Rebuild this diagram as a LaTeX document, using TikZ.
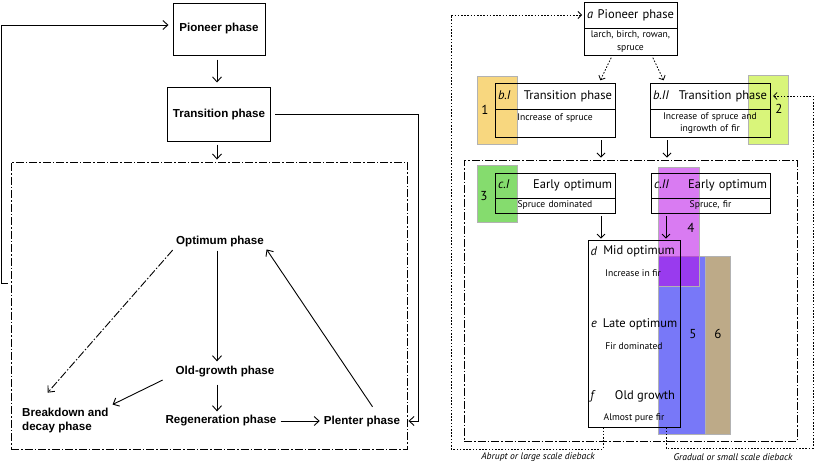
\documentclass[tikz,border=0pt]{standalone}
\usepackage{fontspec}
\setmainfont{PT Sans}
\newfontfamily\phasefont{Liberation Sans}
\usetikzlibrary{arrows.meta,positioning}

\definecolor{zoneyellow}{RGB}{248,215,127}
\definecolor{zonelime}{RGB}{217,245,122}
\definecolor{zonegreen}{RGB}{133,220,110}
\definecolor{zonepurple}{RGB}{183,6,230}
\definecolor{zoneblue}{RGB}{120,120,248}
\definecolor{zonetan}{RGB}{189,170,136}

\tikzset{
  phase/.style={font=\phasefont\bfseries\fontsize{11.6}{14}\selectfont, inner sep=2pt},
  phase box/.style={phase, draw, line width=1pt, minimum width=92pt, minimum height=52pt},
  arr/.style={line width=0.9pt, -{Straight Barb[length=5pt,width=9pt]}},
  arrR/.style={line width=0.8pt, -{Straight Barb[length=4pt,width=8pt]}},
  dashdot/.style={line width=0.9pt, dash pattern=on 8pt off 2pt on 1.5pt off 2pt},
  stage/.style={draw, line width=0.8pt, outer sep=0pt, inner xsep=3pt, font=\fontsize{12.5}{14}\selectfont},
  info/.style={draw, line width=0.8pt, outer sep=0pt, inner xsep=3pt, inner ysep=2pt, align=center, font=\fontsize{9.6}{12.5}\selectfont},
  row/.style={font=\fontsize{12.5}{14}\selectfont, inner sep=1pt},
  row note/.style={font=\fontsize{9.6}{12}\selectfont, inner sep=1pt},
  dotline/.style={line width=0.8pt, dash pattern=on 1.6pt off 1.6pt},
  dotarr/.style={dotline, -{Straight Barb[length=3.5pt,width=7pt]}},
  zone/.style={draw=gray!60, line width=0.5pt},
  zone label/.style={font=\fontsize{13}{15}\selectfont},
  note/.style={font=\itshape\fontsize{9.6}{12}\selectfont},
}

\begin{document}
\begin{tikzpicture}[x=1pt,y=-1pt]
\useasboundingbox (0,0) rectangle (814,463);

% left: the classical cycle
\node[phase box] (pioneer) at (219,29) {Pioneer phase};
\node[phase box, minimum width=103pt, minimum height=54pt] (transition) at (219,114) {Transition phase};
\node[draw, dashdot, minimum width=396pt, minimum height=287pt] (cycle) at (209,305.5) {};
\node[phase] (optimum) at (220,241) {Optimum phase};
\node[phase] (oldgrowth) at (225,372) {Old-growth phase};
\node[phase, align=left, anchor=west] (breakdown) at (20,420) {Breakdown and\\decay phase};
\node[phase] (regeneration) at (221,421) {Regeneration phase};
\node[phase] (plenter) at (362,421) {Plenter phase};
\coordinate (ltrack) at (1,283);
\coordinate (rtrack) at (418,421);

\draw[arr, shorten <=4pt, shorten >=4pt] ([xshift=-2pt]pioneer.south) -- ([xshift=-2pt]transition.north);
\draw[arr, shorten <=3pt, shorten >=2pt] ([xshift=-2pt]transition.south) -- ([xshift=-2pt]transition.south |- cycle.north);
\draw[arr, shorten <=4pt, shorten >=1pt] (transition.east) -| (rtrack) -- (rtrack -| cycle.east);
\draw[arr, shorten <=3pt, shorten >=4pt] (ltrack -| cycle.west) -- (ltrack) |- ([yshift=4pt]pioneer.west);
\draw[arr, shorten <=2pt, shorten >=3pt] ([xshift=-3pt]optimum.south) -- ([xshift=-3pt]optimum.south |- oldgrowth.north);
\draw[arr, dashdot, shorten <=2pt, shorten >=1pt] (optimum.south west) -- ([xshift=27pt,yshift=12pt]breakdown.north west);
\draw[arr, shorten <=1pt, shorten >=2pt] ([xshift=-10pt]oldgrowth.south west) -- (breakdown.north east);
\draw[arr, shorten <=5pt, shorten >=2pt] ([xshift=-8pt]oldgrowth.south) -- ([xshift=-8pt]oldgrowth.south |- regeneration.north);
\draw[arr, shorten <=2pt, shorten >=2pt] (regeneration) -- (plenter);
\draw[arr, shorten <=8pt, shorten >=1pt] ([xshift=15pt]plenter.north) -- (optimum.south east);

% right: zones
\fill[zoneyellow, zone] (477,76) rectangle (517,144);
\fill[zonelime, zone] (748,75) rectangle (788,144);
\fill[zonegreen, zone] (477,165) rectangle (517,222);
\fill[zoneblue, zone] (658,256) rectangle (705,434);
\fill[zonetan, zone] (705,256) rectangle (730,434);
\fill[zonepurple, fill opacity=.53, zone] (658,167) rectangle (699,286);
\node[zone label] (z1) at (485,110) {1};
\node[zone label] (z2) at (779,109) {2};
\node[zone label] (z3) at (484,196) {3};
\node[zone label] (z4) at (691,228) {4};
\node[zone label] (z5) at (693,334) {5};
\node[zone label] (z6) at (718,334) {6};

% right: stages
\node[stage, text width=87pt, minimum height=26pt] (a) at (630.5,15) {\textit{a}\hfill Pioneer phase};
\node[info, text width=87pt, minimum height=27pt, below=0pt of a] (aInfo) {larch, birch, rowan,\\spruce};
\node[stage, text width=114pt, minimum height=26pt] (b1) at (555,96) {\textit{b.I}\hfill Transition phase};
\node[info, text width=114pt, minimum height=28pt, below=0pt of b1] (b1Info) {Increase of spruce\\\mbox{}};
\node[stage, text width=114pt, minimum height=26pt] (b2) at (710,96) {\textit{b.II}\hfill Transition phase};
\node[info, text width=114pt, minimum height=28pt, below=0pt of b2] (b2Info) {Increase of spruce and\\ingrowth of fir};
\node[draw, dashdot, minimum width=333pt, minimum height=281pt] (cycleR) at (630.5,300.5) {};
\node[stage, text width=114pt, minimum height=25pt] (c1) at (555,185.5) {\textit{c.I}\hfill Early optimum};
\node[info, text width=114pt, minimum height=15pt, below=0pt of c1] (c1Info) {Spruce dominated};
\node[stage, text width=113pt, minimum height=25pt] (c2) at (710.5,185.5) {\textit{c.II}\hfill Early optimum};
\node[info, text width=113pt, minimum height=15pt, below=0pt of c2] (c2Info) {Spruce, fir};
\node[draw, line width=.8pt, minimum width=92pt, minimum height=187pt] (d) at (634,333.5) {};
\node[row] (dLabel) at (594,251) {\textit{d}};
\node[row] (mid) at (639,251) {Mid optimum};
\node[row note] (midNote) at (633,273) {Increase in fir};
\node[row] (eLabel) at (594,324) {\textit{e}};
\node[row] (late) at (640,324) {Late optimum};
\node[row note] (lateNote) at (634,346) {Fir dominated};
\node[row] (fLabel) at (593,396) {\textit{f}};
\node[row] (old) at (645,396) {Old growth};
\node[row note] (oldNote) at (634,418) {Almost pure fir};
\coordinate (abrupt corner) at (451,449);
\coordinate (gradual corner) at (813,448);

\draw[dotarr, shorten <=3pt, shorten >=3pt] ([xshift=-18pt]aInfo.south) -- ([xshift=44pt]b1.north);
\draw[dotarr, shorten <=3pt, shorten >=3pt] ([xshift=21pt]aInfo.south) -- ([xshift=-45pt]b2.north);
\draw[arrR, shorten <=3pt, shorten >=2pt] ([xshift=46pt]b1Info.south) -- ([xshift=46pt]b1Info.south |- cycleR.north);
\draw[arrR, shorten <=3pt, shorten >=2pt] ([xshift=-43pt]b2Info.south) -- ([xshift=-43pt]b2Info.south |- cycleR.north);
\draw[arrR, shorten <=3pt, shorten >=1pt] ([xshift=46pt]c1Info.south) -- ([xshift=46pt]c1Info.south |- d.north);
\draw[arrR, shorten <=3pt, shorten >=1pt] ([xshift=-44.5pt]c2Info.south) -- ([xshift=-44.5pt]c2Info.south |- d.north);
\draw[dotarr, shorten >=2pt] ([xshift=-31pt]d.south) |- (abrupt corner) |- (a.west);
\draw[dotarr, shorten >=3pt] ([xshift=32pt]d.south) |- (gradual corner) |- (b2.east);
\node[note] (abrupt) at (538,457) {Abrupt or large scale dieback};
\node[note] (gradual) at (733,457) {Gradual or small scale dieback};
\end{tikzpicture}
\end{document}
